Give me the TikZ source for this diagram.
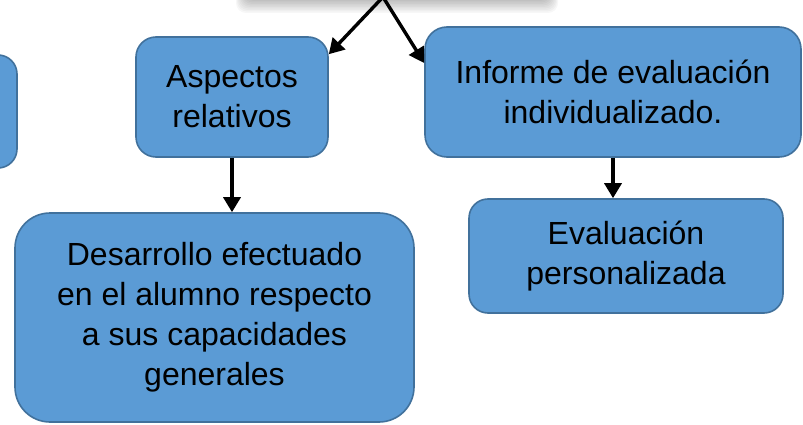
\documentclass[tikz,border=0pt]{standalone}
\usepackage{fontspec}
\setmainfont{Liberation Sans}
\usetikzlibrary{positioning,arrows.meta}
\definecolor{boxblue}{RGB}{91,155,213}
\definecolor{boxedge}{RGB}{65,113,156}
\tikzset{
  caja/.style={draw=boxedge,fill=boxblue,line width=1.6pt,align=center,inner sep=0pt,font=\fontsize{32}{40}\selectfont},
  flecha/.style={line width=3.4pt,-{Triangle[length=15pt,width=17pt]}},
  sombra/.style={fill=black,opacity=0.03,rounded corners=10pt}
}
\begin{document}
\begin{tikzpicture}[x=1pt,y=-1pt]
  \useasboundingbox (0,0) rectangle (803,425);
  \clip (0,0) rectangle (803,425);
  % shadow of the box above the view
  \foreach \i in {0,...,8} \fill[sombra] (236+\i,-40) rectangle (558-\i,13-1.5*\i);
  \fill[white,rounded corners=10pt] (245,-40) rectangle (549,-2);
  \coordinate (raiz) at (383,-3);
  % boxes
  \node[caja,rounded corners=19pt,minimum width=214pt,minimum height=113pt] (izq) at (-90,111.5) {};
  \node[caja,rounded corners=20pt,minimum width=192pt,minimum height=120pt] (aspectos) at (232,97) {Aspectos\\relativos};
  \node[caja,rounded corners=22pt,minimum width=376pt,minimum height=130pt] (informe) at (613,92) {Informe de evaluación\\individualizado.};
  \node[caja,rounded corners=35pt,minimum width=399pt,minimum height=209pt] (desarrollo) at (214.5,317.5) {Desarrollo efectuado\\en el alumno respecto\\a sus capacidades\\generales};
  \node[caja,rounded corners=19pt,minimum width=314pt,minimum height=114pt] (evaluacion) at (626,256) {Evaluación\\personalizada};
  % arrows
  \draw[flecha] (raiz) -- ([yshift=-18pt]aspectos.north east);
  \draw[flecha] (raiz) -- ([yshift=29pt]informe.west);
  \draw[flecha] (aspectos.south) -- (aspectos.south |- desarrollo.north);
  \draw[flecha] (informe.south) -- (informe.south |- evaluacion.north);
\end{tikzpicture}
\end{document}
